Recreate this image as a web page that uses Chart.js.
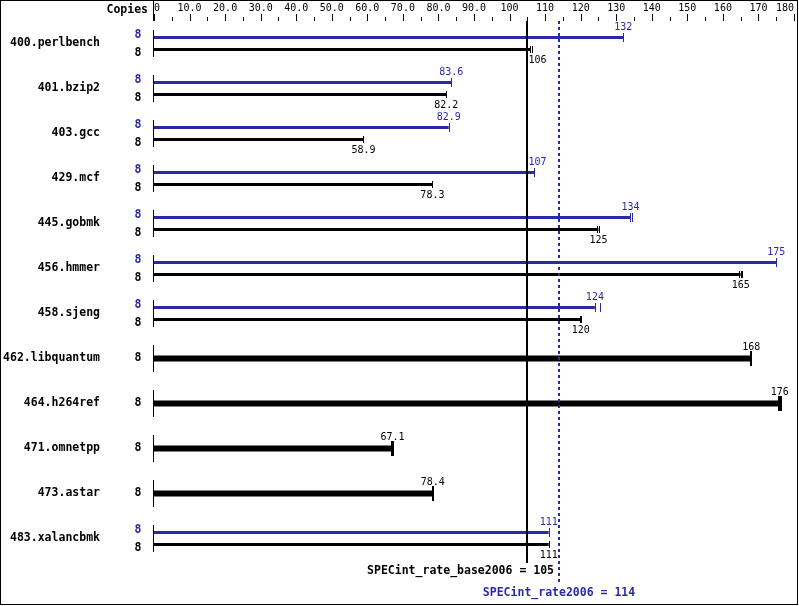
<!DOCTYPE html>
<html>
<head>
<meta charset="utf-8">
<script src="https://cdn.jsdelivr.net/npm/chart.js@4/dist/chart.umd.min.js"></script>
<style>
  body { margin: 0; background: #fff; }
  #wrap { position: absolute; left: 0; top: 0; width: 799px; height: 606px; }
</style>
</head>
<body>
<div id="wrap"><canvas id="chart" width="799" height="606"></canvas></div>
<script>
const benchmarks = ["400.perlbench", "401.bzip2", "403.gcc", "429.mcf", "445.gobmk", "456.hmmer",
    "458.sjeng", "462.libquantum", "464.h264ref", "471.omnetpp", "473.astar", "483.xalancbmk"];
const copies = [8, 8, 8, 8, 8, 8, 8, 8, 8, 8, 8, 8];
const peakRatio = [132, 83.6, 82.9, 107, 134, 175, 124, null, null, null, null, 111];
const baseRatio = [106, 82.2, 58.9, 78.3, 125, 165, 120, null, null, null, null, 111];
const sameRatio = [null, null, null, null, null, null, null, 168, 176, 67.1, 78.4, null];
// individual run results, drawn as little end marks
const peakRuns = [[132], [83.6], [82.9], [107], [133.8, 134.3], [175], [124, 125.3], [], [], [], [], [111]];
const baseRuns = [[105.8, 106.3], [82.2], [58.9], [78.3], [124.7, 125.2], [164.6, 165, 165.4], [119.8, 120.2], [], [], [], [], [111]];
const sameRuns = [[], [], [], [], [], [], [], [168], [175.8, 176.4], [66.8, 67.3], [78.4], []];
const xTicks = [0, 10, 20, 30, 40, 50, 60, 70, 80, 90, 100, 110, 120, 130, 140, 150, 160, 170, 180];
const baseScore = 105;
const peakScore = 114;

const BLUE = "#2a2aa8";
const BOLD = "bold 11.5px 'DejaVu Sans Mono', monospace";
const PLAIN = "10px 'DejaVu Sans Mono', monospace";

function tickText(v) {
    if (v === 0) return "0";
    return v < 100 ? v.toFixed(1) : String(v);
}

const specPlugin = {
    id: "spec",
    afterDatasetsDraw(chart) {
        const ctx = chart.ctx;
        const x = chart.scales.x;
        const y = chart.scales.y;
        const area = chart.chartArea;
        const x0 = x.getPixelForValue(0);
        const bx = Math.round(x.getPixelForValue(baseScore));
        const px = Math.round(x.getPixelForValue(peakScore));
        ctx.save();

        // value label, moved off the base score line if it would sit on it
        function valueLabel(text, cx, cy) {
            const w = ctx.measureText(text).width;
            if (Math.abs(cx - bx) < w / 2 + 1) {
                ctx.textAlign = "left";
                ctx.fillText(text, bx + 1.5, cy);
            } else {
                ctx.textAlign = "center";
                ctx.fillText(text, cx, cy);
            }
        }

        // top axis ticks
        ctx.strokeStyle = "#000";
        ctx.lineWidth = 1;
        for (let v = 0; v <= 180; v += 5) {
            const tx = Math.round(x.getPixelForValue(v)) + 0.5;
            ctx.beginPath();
            ctx.moveTo(tx, v % 10 === 0 ? area.top - 7 : area.top - 4);
            ctx.lineTo(tx, area.top);
            ctx.stroke();
        }
        ctx.beginPath();
        ctx.moveTo(Math.round(x0) - 0.5, 0);
        ctx.lineTo(Math.round(x0) - 0.5, area.top);
        ctx.stroke();

        ctx.font = BOLD;
        ctx.fillStyle = "#000";
        ctx.textAlign = "right";
        ctx.textBaseline = "middle";
        ctx.fillText("Copies", x0 - 6, 10);

        const metaPeak = chart.getDatasetMeta(0);
        const metaBase = chart.getDatasetMeta(1);
        const metaSame = chart.getDatasetMeta(2);

        benchmarks.forEach((name, i) => {
            const cy = y.getPixelForValue(i);
            // row start line
            ctx.strokeStyle = "#000";
            ctx.lineWidth = 1;
            ctx.beginPath();
            ctx.moveTo(Math.round(x0) - 0.5, cy - 13.5);
            ctx.lineTo(Math.round(x0) - 0.5, cy + 13.5);
            ctx.stroke();

            ctx.font = BOLD;
            ctx.textAlign = "center";
            ctx.textBaseline = "middle";
            if (peakRatio[i] !== null) {
                const pb = metaPeak.data[i];
                const bb = metaBase.data[i];
                ctx.fillStyle = BLUE;
                ctx.fillText(String(copies[i]), x0 - 16, cy - 8.5);
                ctx.fillStyle = "#000";
                ctx.fillText(String(copies[i]), x0 - 16, cy + 9.5);

                ctx.strokeStyle = BLUE;
                peakRuns[i].forEach((r) => {
                    const tx = Math.round(x.getPixelForValue(r)) + 0.5;
                    ctx.beginPath();
                    ctx.moveTo(tx, pb.y - 4.5);
                    ctx.lineTo(tx, pb.y + 4.5);
                    ctx.stroke();
                });
                ctx.strokeStyle = "#000";
                baseRuns[i].forEach((r) => {
                    const tx = Math.round(x.getPixelForValue(r)) + 0.5;
                    ctx.beginPath();
                    ctx.moveTo(tx, bb.y - 3.5);
                    ctx.lineTo(tx, bb.y + 3.5);
                    ctx.stroke();
                });

                ctx.font = PLAIN;
                ctx.fillStyle = BLUE;
                valueLabel(String(peakRatio[i]), pb.x, pb.y - 10);
                ctx.fillStyle = "#000";
                valueLabel(String(baseRatio[i]), bb.x, bb.y + 11);
            } else {
                const sb = metaSame.data[i];
                ctx.fillStyle = "#000";
                ctx.fillText(String(copies[i]), x0 - 16, cy);
                ctx.lineWidth = 2;
                ctx.strokeStyle = "#000";
                sameRuns[i].forEach((r) => {
                    const tx = Math.round(x.getPixelForValue(r));
                    ctx.beginPath();
                    ctx.moveTo(tx, sb.y - 7.5);
                    ctx.lineTo(tx, sb.y + 7.5);
                    ctx.stroke();
                });
                ctx.font = PLAIN;
                valueLabel(String(sameRatio[i]), sb.x, sb.y - 11);
            }
        });

        // overall scores
        ctx.strokeStyle = "#000";
        ctx.lineWidth = 2;
        ctx.beginPath();
        ctx.moveTo(bx, area.top);
        ctx.lineTo(bx, area.bottom + 2);
        ctx.stroke();

        ctx.strokeStyle = BLUE;
        ctx.setLineDash([3, 3]);
        ctx.beginPath();
        ctx.moveTo(px, area.top);
        ctx.lineTo(px, area.bottom + 24);
        ctx.stroke();
        ctx.setLineDash([]);

        ctx.font = BOLD;
        ctx.fillStyle = "#000";
        ctx.textAlign = "right";
        ctx.fillText("SPECint_rate_base2006 = " + baseScore, px - 5, area.bottom + 10);
        ctx.fillStyle = BLUE;
        ctx.textAlign = "center";
        ctx.fillText("SPECint_rate2006 = " + peakScore, px, area.bottom + 32);

        // frame
        ctx.strokeStyle = "#000";
        ctx.lineWidth = 1;
        ctx.strokeRect(0.5, 0.5, 797, 604);
        ctx.restore();
    },
};

new Chart(document.getElementById("chart"), {
    type: "bar",
    data: {
        labels: benchmarks,
        datasets: [
            { label: "peak", data: peakRatio, backgroundColor: BLUE },
            { label: "base", data: baseRatio, backgroundColor: "#000" },
            { label: "base = peak", data: sameRatio, backgroundColor: "#000" },
        ],
    },
    options: {
        indexAxis: "y",
        responsive: false,
        animation: false,
        devicePixelRatio: 1,
        layout: { padding: { left: 0, right: 5, top: 0, bottom: 45 } },
        datasets: {
            bar: {
                skipNull: true,
                categoryPercentage: 24 / 45,
                barPercentage: 0.25,
                borderWidth: 0,
            },
        },
        plugins: {
            legend: { display: false },
            tooltip: { enabled: false },
        },
        scales: {
            x: {
                type: "linear",
                position: "top",
                min: 0,
                max: 180,
                afterBuildTicks: (scale) => {
                    scale.ticks = xTicks.map((v) => ({ value: v }));
                },
                afterFit: (scale) => {
                    scale.height = 21;
                    scale.paddingLeft = 0;
                    scale.paddingRight = 0;
                },
                grid: { display: false, drawTicks: false },
                border: { display: false },
                ticks: {
                    autoSkip: false,
                    maxRotation: 0,
                    align: "inner",
                    padding: 7,
                    color: "#000",
                    font: { family: "'DejaVu Sans Mono', monospace", size: 10 },
                    callback: (v) => tickText(v),
                },
            },
            y: {
                type: "category",
                afterFit: (scale) => {
                    scale.width = 154;
                    scale.paddingTop = 0;
                    scale.paddingBottom = 0;
                },
                grid: { display: false, drawTicks: false },
                border: { display: false },
                ticks: {
                    padding: 54,
                    color: "#000",
                    font: { family: "'DejaVu Sans Mono', monospace", size: 11.5, weight: "bold" },
                },
            },
        },
    },
    plugins: [specPlugin],
});
</script>
</body>
</html>
